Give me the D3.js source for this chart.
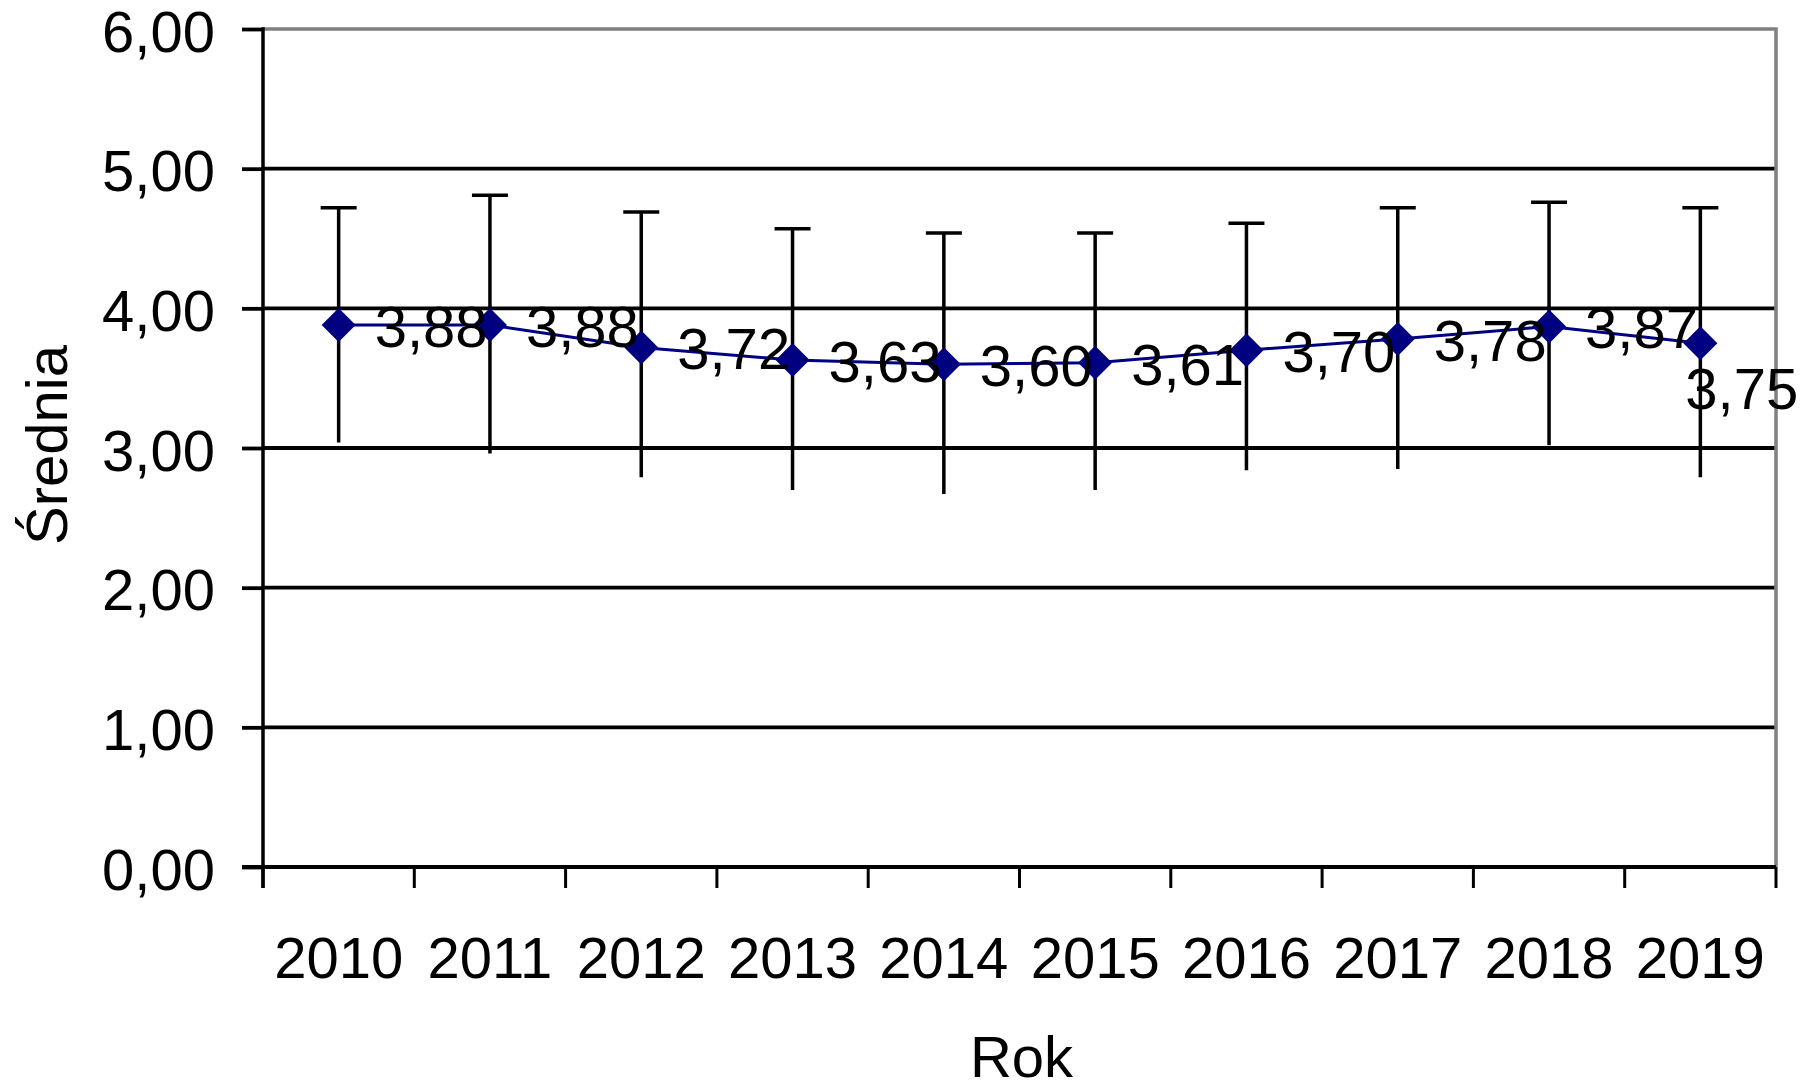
<!DOCTYPE html>
<html>
<head>
<meta charset="utf-8">
<script src="https://cdn.jsdelivr.net/npm/d3@7/dist/d3.min.js"></script>
<style>
  html, body { margin: 0; padding: 0; background: #ffffff; }
  svg { display: block; }
  text { font-family: "Liberation Sans", Arial, sans-serif; fill: #000; }
</style>
</head>
<body>
<svg id="chart" width="1812" height="1086"></svg>
<script>
// ---- data ----
const years = ["2010", "2011", "2012", "2013", "2014", "2015", "2016", "2017", "2018", "2019"];
const means = [3.88, 3.88, 3.72, 3.63, 3.60, 3.61, 3.70, 3.78, 3.87, 3.75];
const upper = [4.72, 4.81, 4.69, 4.57, 4.54, 4.54, 4.61, 4.72, 4.76, 4.72];
const lower = [3.04, 2.96, 2.79, 2.70, 2.67, 2.70, 2.84, 2.85, 3.02, 2.79];
const labelPlacement = ["right", "right", "right", "right", "right", "right", "right", "right", "right", "below"];
const yTicks = [0, 1, 2, 3, 4, 5, 6];
const xTitle = "Rok";
const yTitle = "Średnia";

// ---- layout ----
const W = 1812, H = 1086;
const plot = { left: 263, right: 1776, top: 29, bottom: 867 };
const FONT = 58;

const svg = d3.select("#chart");
const x = d3.scaleBand().domain(years).range([plot.left, plot.right]).padding(0);
const y = d3.scaleLinear().domain([0, 6]).range([plot.bottom, plot.top]);
const fmt = v => d3.format(".2f")(v).replace(".", ",");
const cx = d => x(d) + x.bandwidth() / 2;

const data = years.map((yr, i) => ({ yr, m: means[i], hi: upper[i], lo: lower[i], pos: labelPlacement[i] }));

// gridlines
svg.append("g").selectAll("line")
  .data(yTicks.filter(t => t > 0 && t < 6))
  .join("line")
  .attr("x1", plot.left).attr("x2", plot.right)
  .attr("y1", d => y(d)).attr("y2", d => y(d))
  .attr("stroke", "#000").attr("stroke-width", 3.8);

// plot border (top & right, gray)
svg.append("path")
  .attr("d", `M${plot.left},${y(6)}H${plot.right}V${y(0)}`)
  .attr("fill", "none").attr("stroke", "#808080").attr("stroke-width", 3.5);

// y axis
const yAxis = d3.axisLeft(y).tickValues(yTicks).tickFormat(fmt).tickSize(21).tickPadding(27);
const gy = svg.append("g").attr("transform", `translate(${plot.left},0)`).call(yAxis);
gy.select(".domain").remove();
gy.selectAll(".tick line").attr("stroke", "#000").attr("stroke-width", 3.8);
gy.selectAll(".tick text").attr("font-size", FONT).attr("dy", 22)
  .style("font-family", "'Liberation Sans', Arial, sans-serif").attr("fill", "#000");
svg.append("line")
  .attr("x1", plot.left).attr("x2", plot.left)
  .attr("y1", y(6) - 1.8).attr("y2", y(0) + 21)
  .attr("stroke", "#000").attr("stroke-width", 3.5);

// x axis line at 0
svg.append("line")
  .attr("x1", plot.left - 21).attr("x2", plot.right)
  .attr("y1", y(0)).attr("y2", y(0))
  .attr("stroke", "#000").attr("stroke-width", 4.2);

// x axis: boundary ticks + centered labels
const bounds = years.map(d => x(d)).concat([plot.right]);
svg.append("g").selectAll("line")
  .data(bounds).join("line")
  .attr("x1", d => d).attr("x2", d => d)
  .attr("y1", y(0)).attr("y2", y(0) + 21)
  .attr("stroke", "#000").attr("stroke-width", 3);

const xAxis = d3.axisBottom(x).tickSize(0).tickPadding(0);
const gx = svg.append("g").attr("transform", `translate(0,${plot.bottom})`).call(xAxis);
gx.select(".domain").remove();
gx.selectAll(".tick text").attr("font-size", FONT).attr("y", 0).attr("dy", 111)
  .style("font-family", "'Liberation Sans', Arial, sans-serif").attr("fill", "#000");

// axis titles
svg.append("text")
  .attr("x", (plot.left + plot.right) / 2 + 2).attr("y", 1077)
  .attr("text-anchor", "middle").attr("font-size", FONT).text(xTitle);
svg.append("text")
  .attr("transform", `translate(67,${(plot.top + plot.bottom) / 2 - 3}) rotate(-90)`)
  .attr("text-anchor", "middle").attr("font-size", FONT).text(yTitle);

// error bars (cap on top only)
const eb = svg.append("g").attr("stroke", "#000").attr("stroke-width", 3.5);
eb.selectAll("line.v").data(data).join("line").attr("class", "v")
  .attr("x1", d => cx(d.yr)).attr("x2", d => cx(d.yr))
  .attr("y1", d => y(d.hi)).attr("y2", d => y(d.lo));
eb.selectAll("line.cap").data(data).join("line").attr("class", "cap")
  .attr("x1", d => cx(d.yr) - 18).attr("x2", d => cx(d.yr) + 18)
  .attr("y1", d => y(d.hi)).attr("y2", d => y(d.hi));

// line
const line = d3.line().x(d => cx(d.yr)).y(d => y(d.m));
svg.append("path").datum(data)
  .attr("d", line).attr("fill", "none")
  .attr("stroke", "#000080").attr("stroke-width", 3);

// markers (diamonds)
const R = 17;
svg.append("g").selectAll("path").data(data).join("path")
  .attr("d", d => {
    const px = cx(d.yr), py = y(d.m);
    return `M${px},${py - R}L${px + R},${py}L${px},${py + R}L${px - R},${py}Z`;
  })
  .attr("fill", "#000080");

// data labels
svg.append("g").selectAll("text").data(data).join("text")
  .attr("font-size", FONT)
  .attr("x", d => d.pos === "below" ? cx(d.yr) - 15 : cx(d.yr) + 36)
  .attr("y", d => d.pos === "below" ? y(d.m) + 66 : y(d.m) + 22)
  .text(d => fmt(d.m));
</script>
</body>
</html>
